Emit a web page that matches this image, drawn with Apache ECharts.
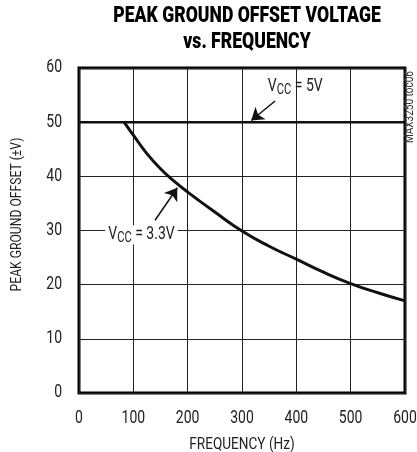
<!DOCTYPE html>
<html><head><meta charset="utf-8">
<script src="https://cdn.jsdelivr.net/npm/echarts@6/dist/echarts.min.js"></script>
<style>html,body{margin:0;padding:0;background:#fff}#c{width:417px;height:452px}</style>
</head><body><div id="c"></div>
<script>
// Condensed-type emulation: draw all canvas text with a horizontal squeeze
(function () {
  var SX = 0.8;
  var P = CanvasRenderingContext2D.prototype;
  var of = P.fillText, os = P.strokeText, om = P.measureText;
  function wrap(orig) {
    return function (t, x, y, m) {
      this.save(); this.translate(x, y); this.scale(SX, 1);
      if (m !== undefined) orig.call(this, t, 0, 0, m / SX); else orig.call(this, t, 0, 0);
      this.restore();
    };
  }
  P.fillText = wrap(of); P.strokeText = wrap(os);
  P.measureText = function (t) {
    var r = om.call(this, t);
    return {
      width: r.width * SX,
      actualBoundingBoxAscent: r.actualBoundingBoxAscent,
      actualBoundingBoxDescent: r.actualBoundingBoxDescent,
      actualBoundingBoxLeft: r.actualBoundingBoxLeft * SX,
      actualBoundingBoxRight: r.actualBoundingBoxRight * SX,
      fontBoundingBoxAscent: r.fontBoundingBoxAscent,
      fontBoundingBoxDescent: r.fontBoundingBoxDescent
    };
  };
})();

var FONT = 'Roboto, "Liberation Sans", sans-serif';
var xTicks = [0, 100, 200, 300, 400, 500, 600];
var yTicks = [0, 10, 20, 30, 40, 50, 60];
var vcc5Freq = [0, 600];
var vcc5Offset = [50, 50];
var vcc33Freq = [83, 100, 125, 150, 175, 200, 250, 300, 350, 400, 450, 500, 550, 600];
var vcc33Offset = [50, 47.6, 44.2, 41.4, 39.1, 37.1, 33.4, 29.9, 27.1, 24.7, 22.3, 20.2, 18.5, 17.0];
var label5 = {x: 398, y: 56.6, text: '{a|V}{s|CC}{a| = 5V}'};
var arrow5 = [[361, 53.9], [317, 50.3]];
var label33 = {x: 115, y: 29.2, text: '{a|V}{s|CC}{a| = 3.3V}'};
var arrow33 = [[140, 31.9], [181, 37.9]];

function zip(a, b) { return a.map(function (v, i) { return [v, b[i]]; }); }
var rich = {
  a: {fontFamily: FONT, fontSize: 17.5, color: '#222'},
  s: {fontFamily: FONT, fontSize: 14, color: '#222', padding: [8, 0, 0, 0]}
};
var chart = echarts.init(document.getElementById('c'), null, {renderer: 'canvas'});
chart.setOption({
  animation: false,
  title: {
    text: 'PEAK GROUND OFFSET VOLTAGE\nvs. FREQUENCY',
    left: 242, top: -2, textAlign: 'center',
    textStyle: {fontFamily: FONT, fontWeight: 900, fontSize: 22, lineHeight: 26, color: '#000'}
  },
  grid: {left: 79, right: 12, top: 68, bottom: 59, containLabel: false, outerBoundsMode: 'none',
    show: true, borderColor: '#000', borderWidth: 3, backgroundColor: 'transparent'},
  xAxis: {
    type: 'value', min: xTicks[0], max: xTicks[xTicks.length - 1], interval: 100,
    name: 'FREQUENCY (Hz)', nameLocation: 'middle', nameGap: 45,
    nameTextStyle: {fontFamily: FONT, fontSize: 17, color: '#222'},
    axisLine: {show: false}, axisTick: {show: false},
    axisLabel: {fontFamily: FONT, fontSize: 17.5, color: '#222', margin: 18},
    splitLine: {show: true, lineStyle: {color: '#222', width: 1}}
  },
  yAxis: {
    type: 'value', min: yTicks[0], max: yTicks[yTicks.length - 1], interval: 10,
    name: 'PEAK GROUND OFFSET (\u00b1V)', nameLocation: 'middle', nameGap: 56,
    nameTextStyle: {fontFamily: FONT, fontSize: 15.2, color: '#222', padding: [0, 0, 0, 32]},
    axisLine: {show: false}, axisTick: {show: false},
    axisLabel: {fontFamily: FONT, fontSize: 17.5, color: '#222', margin: 17},
    splitLine: {show: true, lineStyle: {color: '#222', width: 1}}
  },
  graphic: [{
    type: 'text', x: 410, y: 143, rotation: Math.PI / 2,
    style: {text: 'MAX3250 toc06', font: '12.5px ' + FONT, fill: '#333', textAlign: 'left', textVerticalAlign: 'middle'}
  }],
  series: [{
    type: 'line', data: zip(vcc5Freq, vcc5Offset), symbol: 'none',
    lineStyle: {color: '#111', width: 2.5}, z: 3,
    markPoint: {
      symbol: 'rect', symbolSize: 1, itemStyle: {color: 'transparent'},
      label: {show: true, position: 'inside', formatter: label5.text, rich: rich},
      data: [{coord: [label5.x, label5.y]}]
    },
    markLine: {
      silent: true, symbol: ['none', 'arrow'], symbolSize: 12,
      lineStyle: {color: '#111', width: 1.5, type: 'solid'}, label: {show: false},
      data: [[{coord: arrow5[0]}, {coord: arrow5[1]}]]
    }
  }, {
    type: 'line', data: zip(vcc33Freq, vcc33Offset), symbol: 'none', smooth: true,
    lineStyle: {color: '#111', width: 3}, z: 3,
    markPoint: {
      symbol: 'rect', symbolSize: 1, itemStyle: {color: 'transparent'},
      label: {show: true, position: 'inside', formatter: label33.text, rich: rich,
        backgroundColor: '#fff', padding: [0, 3, 0, 3]},
      data: [{coord: [label33.x, label33.y]}]
    },
    markLine: {
      silent: true, symbol: ['none', 'arrow'], symbolSize: 12,
      lineStyle: {color: '#111', width: 1.5, type: 'solid'}, label: {show: false},
      data: [[{coord: arrow33[0]}, {coord: arrow33[1]}]]
    }
  }]
});
</script></body></html>
